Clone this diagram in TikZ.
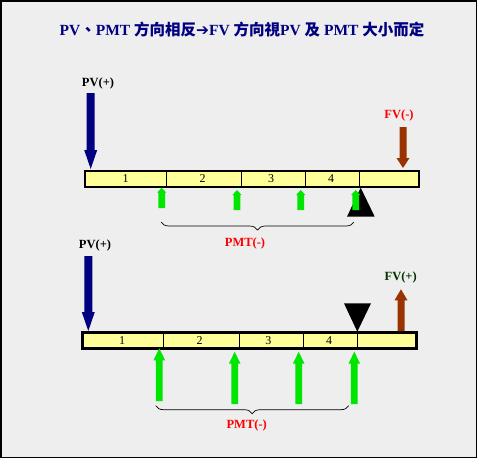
\documentclass[tikz,border=0pt]{standalone}
\usepackage{fontspec}
\setmainfont{Liberation Serif}
\newfontfamily\cjk{Noto Sans CJK TC}
\newfontfamily\dejavu{DejaVu Sans}
\usetikzlibrary{decorations.pathreplacing}
\definecolor{bg}{RGB}{238,238,238}
\definecolor{navy}{RGB}{0,0,128}
\definecolor{barfill}{RGB}{255,255,153}
\definecolor{brownfv}{RGB}{153,51,0}
\definecolor{pmtgreen}{RGB}{0,230,0}
\definecolor{fvgreen}{RGB}{0,51,0}
\definecolor{lblred}{RGB}{255,0,0}
% \fatarr{x}{tail y}{tip y}{half shaft}{half head}{head length}{colour}
\newcommand{\fatarr}[7]{%
  \pgfmathsetmacro{\hb}{#3 + ((#2>#3) ? 1 : -1)*#6}%
  \fill[#7] (#1-#4,#2) -- (#1-#4,\hb) -- (#1-#5,\hb) -- (#1,#3) -- (#1+#5,\hb) -- (#1+#4,\hb) -- (#1+#4,#2) -- cycle;}
\tikzset{
  lbl/.style={font=\bfseries\fontsize{12.5}{14}\selectfont, inner sep=0pt},
  num/.style={font=\fontsize{12}{14}\selectfont, inner sep=0pt},
  bar/.style={draw=black, line width=2.5pt, fill=barfill},
  tick/.style={draw=black, line width=1pt},
  brc/.style={draw=black, line width=0.7pt, decorate, decoration={brace, mirror, amplitude=8pt}}
}
\begin{document}
\begin{tikzpicture}[x=1pt,y=-1pt]
\useasboundingbox (0,0) rectangle (477,458);
\fill[bg] (0,0) rectangle (477,458);
\draw[black, line width=1.5pt] (0.75,0.75) rectangle (476.25,457.25);
% title
\node[inner sep=0pt, text=navy, font=\bfseries\fontsize{15.5}{18}\selectfont] (title) at (242,30)
  {PV{\cjk 、}PMT {\cjk 方向相反}{\dejavu\bfseries ➔}FV {\cjk 方向視}PV {\cjk 及} PMT {\cjk 大小而定}};
% ===== top timeline =====
\draw[bar] (85,171) rectangle (419,187);
\coordinate (t1) at (166.7,171); \coordinate (t2) at (241.7,171);
\coordinate (t3) at (305.7,171); \coordinate (t4) at (359.7,171);
\foreach \p in {t1,t2,t3,t4} \draw[tick] (\p) -- ++(0,16);
\node[num] (n1) at (125.7,179) {1};
\node[num] (n2) at (202.7,179) {2};
\node[num] (n3) at (271,179) {3};
\node[num] (n4) at (331,179) {4};
\fatarr{90.7}{93}{169}{4}{6.5}{19}{navy}
\node[lbl] (pv1) at (98,83) {PV(+)};
\fatarr{403}{127}{168}{3.5}{6.5}{10}{brownfv}
\node[lbl, text=lblred] (fv1) at (399,115) {FV(-)};
\fill[black] (360.7,187.7) -- (347,216.7) -- (374.7,216.7) -- cycle;
\fatarr{161.7}{208}{187.7}{3.4}{4.6}{5}{pmtgreen}
\fatarr{237}{210}{190}{3.4}{4.6}{5}{pmtgreen}
\fatarr{300.7}{210}{190}{3.4}{4.6}{5}{pmtgreen}
\fatarr{355.7}{210}{190}{3.4}{4.6}{5}{pmtgreen}
\coordinate (b1s) at (161,222); \coordinate (b1e) at (354,222);
\draw[brc] (b1s) -- (b1e);
\node[lbl, text=lblred] (pmt1) at (245,243) {PMT(-)};
% ===== bottom timeline =====
\draw[bar] (82.7,332.7) rectangle (416.7,348.3);
\coordinate (u1) at (163.7,332.7); \coordinate (u2) at (239.7,332.7);
\coordinate (u3) at (303.7,332.7); \coordinate (u4) at (357.3,332.7);
\foreach \p in {u1,u2,u3,u4} \draw[tick] (\p) -- ++(0,15.6);
\node[num] (m1) at (122,340.5) {1};
\node[num] (m2) at (199.7,340.5) {2};
\node[num] (m3) at (268.3,340.5) {3};
\node[num] (m4) at (329,340.5) {4};
\fatarr{88.3}{256}{331}{4}{6.5}{19}{navy}
\node[lbl] (pv2) at (95,245) {PV(+)};
\fill[black] (357.3,331.7) -- (344,303.3) -- (371,303.3) -- cycle;
\fatarr{401}{331}{289.3}{3.5}{6.5}{11}{brownfv}
\node[lbl, text=fvgreen] (fv2) at (400.7,277.7) {FV(+)};
\fatarr{159.3}{401}{348.3}{3.4}{5.8}{12}{pmtgreen}
\fatarr{234.7}{404}{351.7}{3.4}{5.8}{12}{pmtgreen}
\fatarr{298.7}{404}{351.7}{3.4}{5.8}{12}{pmtgreen}
\fatarr{354.3}{404}{351.7}{3.4}{5.8}{12}{pmtgreen}
\coordinate (b2s) at (155.7,405.7); \coordinate (b2e) at (348.7,405.7);
\draw[brc] (b2s) -- (b2e);
\node[lbl, text=lblred] (pmt2) at (246.7,425) {PMT(-)};
\end{tikzpicture}
\end{document}
